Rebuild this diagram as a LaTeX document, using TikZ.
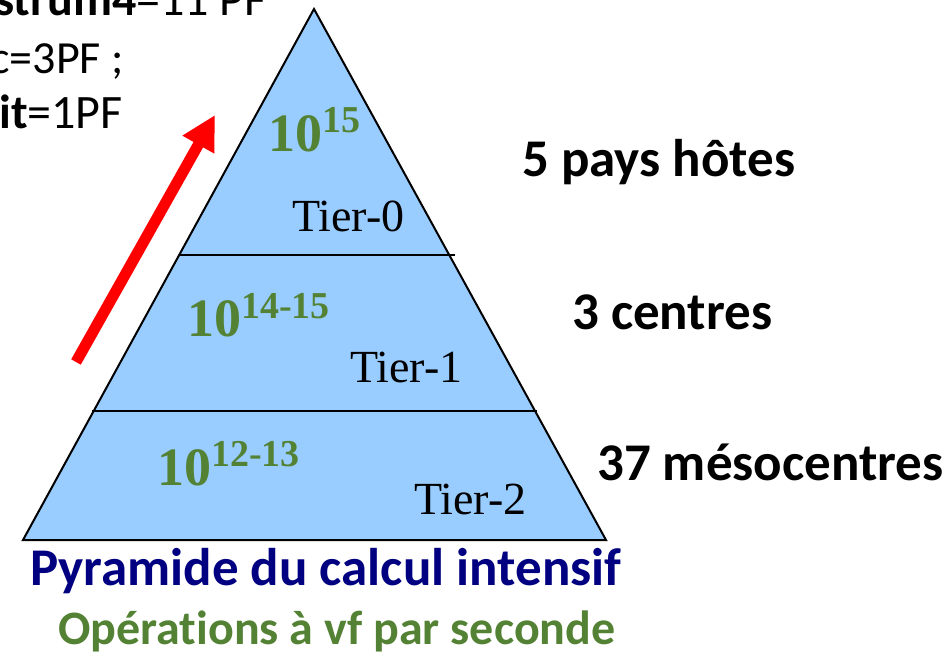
\documentclass[tikz,border=0pt]{standalone}
\usepackage{fontspec}
\setmainfont{Liberation Serif}
\newfontfamily\calibri[Ligatures=NoCommon]{Carlito}
\usetikzlibrary{arrows.meta}
\definecolor{pyrblue}{HTML}{99CCFF}
\definecolor{tiergreen}{HTML}{548235}
\definecolor{titlenavy}{HTML}{000080}
\newcommand{\tenpow}[1]{10\raisebox{19pt}{\fontsize{38}{40}\selectfont #1}}

\begin{document}
\begin{tikzpicture}[x=1pt, y=-1pt, line join=miter,
      lbl/.style={inner sep=0pt, anchor=base west, font=\calibri\bfseries\fontsize{53}{60}\selectfont},
      pw/.style={inner sep=0pt, anchor=base west, text=tiergreen, font=\bfseries\fontsize{54}{60}\selectfont},
      tier/.style={inner sep=0pt, anchor=base west, font=\fontsize{46}{52}\selectfont},
      note/.style={inner sep=0pt, anchor=base east, font=\calibri\fontsize{48}{52}\selectfont}]
      \clip (0,0) rectangle (951,655);
      % pyramid and its levels
      \coordinate (apex) at (314,9);
      \coordinate (bl) at (23,540);
      \coordinate (br) at (606,540);
      \filldraw[fill=pyrblue, line width=2pt] (apex) -- (bl) -- (br) -- cycle;
      \draw[line width=1.6pt] (179,255) -- (455,255);
      \draw[line width=1.6pt] (92,411) -- (537,411);
      \node[pw] (p0) at (268,152) {\tenpow{15}};
      \node[tier] (t0) at (292,232) {Tier-0};
      \node[pw] (p1) at (187,337) {\tenpow{14-15}};
      \node[tier] (t1) at (350,382) {Tier-1};
      \node[pw] (p2) at (157,485) {\tenpow{12-13}};
      \node[tier] (t2) at (414,514) {Tier-2};
      % labels on the right
      \node[lbl] (hosts) at (522,177) {5 pays hôtes};
      \node[lbl] (centres) at (572,330) {3 centres};
      \node[lbl] (meso) at (597,480) {37 mésocentres};
      % captions
      \node[lbl, text=titlenavy] (title) at (30,585) {Pyramide du calcul intensif};
      \node[lbl, text=tiergreen, font=\calibri\bfseries\fontsize{48}{52}\selectfont] (sub) at (58,644) {Opérations à vf par seconde};
      % notes at top left
      \node[note] (na) at (267,16) {{\bfseries strum4}=11 PF};
      \node[note, font=\calibri\fontsize{46}{52}\selectfont] (nb) at (124,74) {c=3PF ;};
      \node[note] (nc) at (123,129) {{\bfseries it}=1PF};
      % growth arrow
      \coordinate (tail) at (76,362);
      \coordinate (tip) at (215,115);
      \draw[red, line width=11pt, -{Triangle[length=34pt, width=34pt]}] (tail) -- (tip);
\end{tikzpicture}
\end{document}
